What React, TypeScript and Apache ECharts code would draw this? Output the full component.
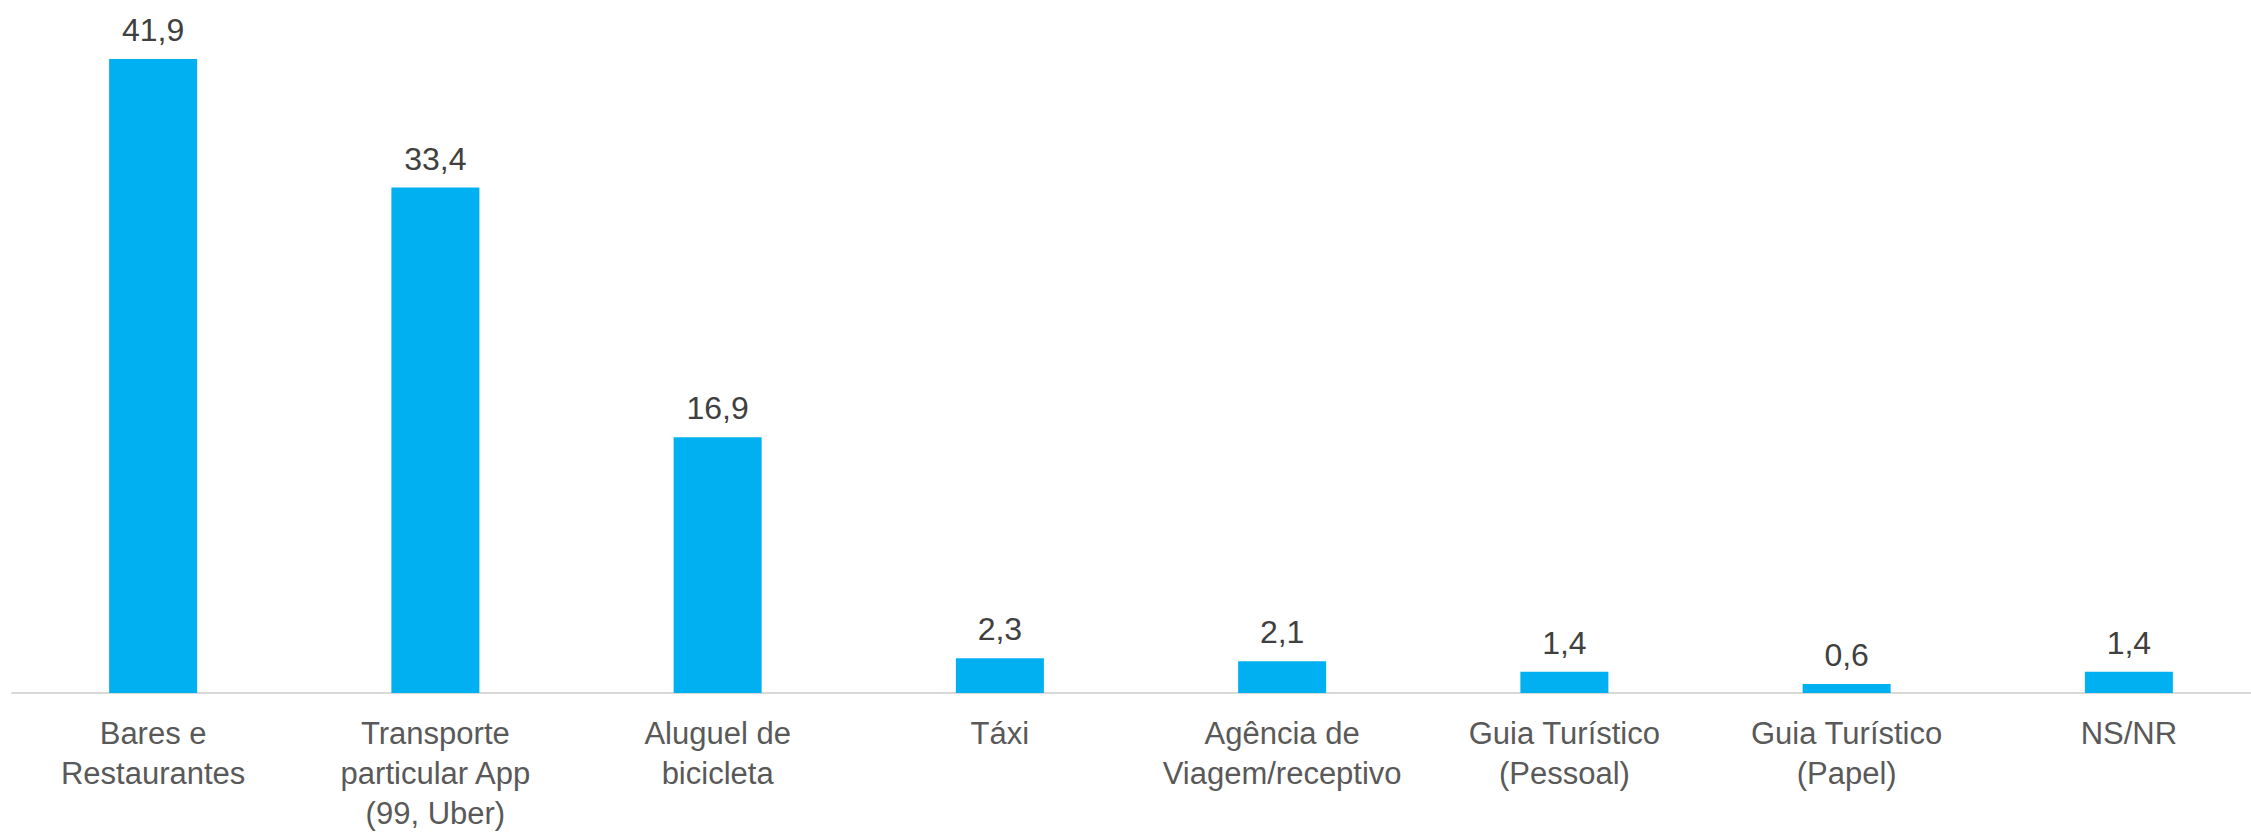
import React, { useEffect, useRef } from "react";
import * as echarts from "echarts";

const categories = [
  "Bares e\nRestaurantes",
  "Transporte\nparticular App\n(99, Uber)",
  "Aluguel de\nbicicleta",
  "Táxi",
  "Agência de\nViagem/receptivo",
  "Guia Turístico\n(Pessoal)",
  "Guia Turístico\n(Papel)",
  "NS/NR",
];
const values = [41.9, 33.4, 16.9, 2.3, 2.1, 1.4, 0.6, 1.4];

export default function App() {
  const ref = useRef<HTMLDivElement>(null);
  useEffect(() => {
    if (!ref.current) return;
    const chart = echarts.init(ref.current, undefined, { renderer: "svg" });
    chart.setOption({
      animation: false,
      textStyle: { fontFamily: "'Liberation Sans', Arial, sans-serif" },
      grid: {
        left: 12,
        width: 2258,
        top: 12,
        bottom: 142,
        containLabel: false,
        outerBoundsMode: "none",
      },
      xAxis: {
        type: "category",
        data: categories,
        axisLine: { show: true, lineStyle: { color: "#D9D9D9", width: 2 } },
        axisTick: { show: false },
        axisLabel: {
          interval: 0,
          color: "#595959",
          fontSize: 31,
          lineHeight: 40,
          margin: 20,
        },
      },
      yAxis: {
        type: "value",
        min: 0,
        max: 45,
        show: false,
        splitLine: { show: false },
      },
      series: [
        {
          type: "bar",
          data: values,
          barWidth: 88,
          itemStyle: { color: "#00B0F0" },
          label: {
            show: true,
            position: "top",
            distance: 13,
            color: "#404040",
            fontSize: 32,
            formatter: (p: any) => String(p.value).replace(".", ","),
          },
        },
      ],
    });
    return () => chart.dispose();
  }, []);
  return (
    <div
      ref={ref}
      style={{ position: "fixed", left: 0, top: 0, width: 2251, height: 835, background: "#fff" }}
    />
  );
}
